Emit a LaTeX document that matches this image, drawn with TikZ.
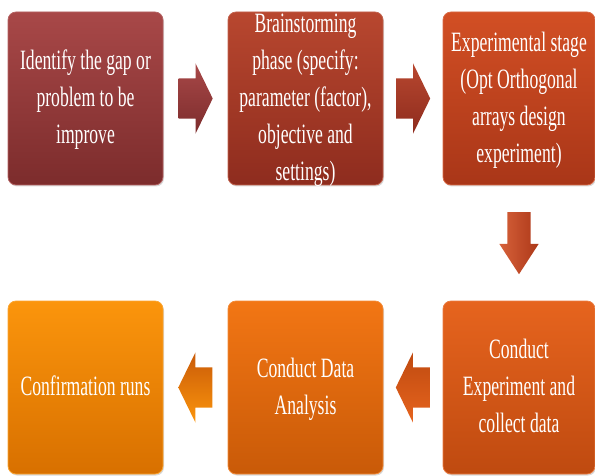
\documentclass[tikz,border=0pt]{standalone}
\usepackage{fontspec}
\setmainfont{Liberation Serif}
\usepackage{xcolor}
\usepackage{graphicx}
\usetikzlibrary{shapes.arrows,shadows,calc}

\definecolor{boxAtop}{HTML}{A84848}
\definecolor{boxAbot}{HTML}{7C2C2C}
\definecolor{boxBtop}{HTML}{B8472F}
\definecolor{boxBbot}{HTML}{8E2C1E}
\definecolor{boxCtop}{HTML}{D24F24}
\definecolor{boxCbot}{HTML}{A93618}
\definecolor{boxDtop}{HTML}{E6641E}
\definecolor{boxDbot}{HTML}{BF4A10}
\definecolor{boxEtop}{HTML}{F27614}
\definecolor{boxEbot}{HTML}{C95A08}
\definecolor{boxFtop}{HTML}{FB950C}
\definecolor{boxFbot}{HTML}{D87000}

\newcommand{\boxtext}[1]{\raisebox{-7pt}{\scalebox{0.63}[1]{\begin{tabular}{@{}c@{}}#1\end{tabular}}}}

\tikzset{
  stepbox/.style={rectangle, rounded corners=8pt, inner sep=0pt,
    minimum width=155pt, text height=86.5pt, text depth=86.5pt,
    text=white, font=\fontsize{28}{37}\selectfont, line width=0.75pt,
    drop shadow={opacity=0.3, shadow xshift=1pt, shadow yshift=-1.5pt}},
  harrow/.style={single arrow, draw=none, inner xsep=0pt, inner ysep=20pt,
    minimum width=0pt, minimum height=34pt, single arrow head extend=15pt,
    single arrow tip angle=128, anchor=tail},
  varrow/.style={single arrow, draw=none, inner xsep=0pt, inner ysep=11.5pt,
    minimum width=0pt, minimum height=62pt, single arrow head extend=8pt,
    single arrow tip angle=66, rotate=-90, anchor=tail}
}

\begin{document}
\begin{tikzpicture}[x=1pt, y=1pt]
        \useasboundingbox (0,0) rectangle (595,475);
        \node[stepbox, top color=boxAtop, bottom color=boxAbot, draw=boxAtop!85!white] (identify) at (85.5,376.5)
            {\boxtext{Identify the gap or\\ problem to be\\ improve}};
        \node[stepbox, top color=boxBtop, bottom color=boxBbot, draw=boxBtop!85!white] (brainstorm) at (305.5,376.5)
            {\boxtext{Brainstorming\\ phase (specify:\\ parameter (factor),\\ objective and\\ settings)}};
        \node[stepbox, minimum width=152pt, top color=boxCtop, bottom color=boxCbot, draw=boxCtop!85!white] (experimental) at (519,376.5)
            {\boxtext{Experimental stage\\ (Opt Orthogonal\\ arrays design\\ experiment)}};
        \node[stepbox, minimum width=152pt, top color=boxDtop, bottom color=boxDbot, draw=boxDtop!85!white] (conduct) at (519,87.5)
            {\boxtext{Conduct\\ Experiment and\\ collect data}};
        \node[stepbox, top color=boxEtop, bottom color=boxEbot, draw=boxEtop!85!white] (analysis) at (305.5,87.5)
            {\boxtext{Conduct Data\\ Analysis}};
        \node[stepbox, top color=boxFtop, bottom color=boxFbot, draw=boxFtop!85!white] (confirm) at (85.5,87.5)
            {\boxtext{Confirmation runs}};
        \node[harrow, top color=boxAtop, bottom color=boxAbot] (toBrain) at ($(identify.east)!0.5!(brainstorm.west)+(-17,0)$) {};
        \node[harrow, top color=boxBtop, bottom color=boxBbot] (toExper) at ($(brainstorm.east)!0.5!(experimental.west)+(-17,0)$) {};
        \node[varrow, left color=boxCtop!90!white, right color=boxCbot!95!boxDtop] (toConduct) at ($(experimental.south)!0.5!(conduct.north)+(0,31)$) {};
        \node[harrow, rotate=180, top color=boxDbot, bottom color=boxDtop] (toAnalysis) at ($(conduct.west)!0.5!(analysis.east)+(17,0)$) {};
        \node[harrow, rotate=180, top color=boxEbot, bottom color=boxFtop] (toConfirm) at ($(analysis.west)!0.5!(confirm.east)+(17,0)$) {};
    \end{tikzpicture}
\end{document}
